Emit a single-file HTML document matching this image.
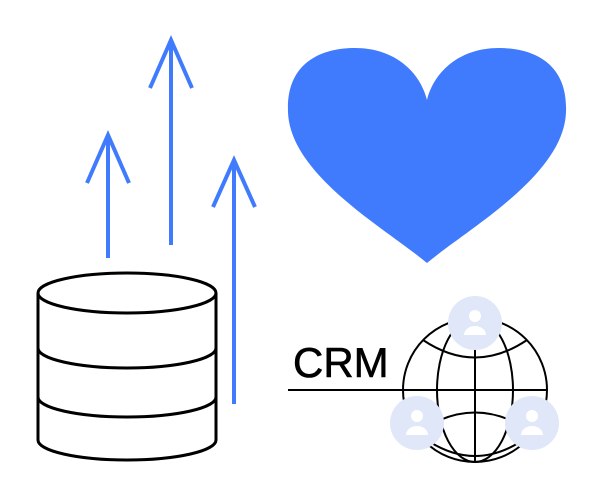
<!DOCTYPE html>
<html><head><style>html,body{margin:0;background:#fff;width:600px;height:500px;overflow:hidden}</style></head><body>
<svg width="600" height="500" viewBox="0 0 600 500" xmlns="http://www.w3.org/2000/svg">
<g stroke="#3f7bfc" stroke-width="4" fill="none">
<path d="M108 258V135M87 183L108 135L129 183"/>
<path d="M171 245V40M150 88L171 40L192 88"/>
<path d="M234 404V160M213 207L234 160L255 207"/>
</g>
<path d="M427 263 C385 228 290 175 288 112 C286 62 322 48 355 48 C395 48 420 72 427 100 C434 72 459 48 499 48 C532 48 568 62 566 112 C564 175 469 228 427 263Z" fill="#3f7bfc"/>
<g stroke="#000" stroke-width="3" fill="none">
<ellipse cx="127" cy="293" rx="89" ry="20"/>
<path d="M38 293V440A89 20 0 0 0 216 440V293"/>
<path d="M38 348A89 20 0 0 0 216 348"/>
<path d="M38 397A89 20 0 0 0 216 397"/>
</g>
<g stroke="#000" stroke-width="2" fill="none">
<path d="M288 390H547"/>
<path d="M403 390A72 72 0 0 1 547 390A72 72 0 0 1 403 390"/>
<ellipse cx="475" cy="390" rx="38" ry="72"/>
<path d="M475 318V462"/>
<path d="M423 340Q475 375 527 340"/>
<path d="M440 420Q475 405 510 420"/>
<path d="M430 442Q475 470 520 442"/>
</g>
<text x="293" y="377" font-family="Liberation Sans, sans-serif" font-size="42" fill="#000" stroke="#000" stroke-width="0.6">CRM</text>
<g fill="#dfe7f9">
<circle cx="475" cy="323" r="27"/><circle cx="417" cy="423" r="27"/><circle cx="532" cy="423" r="27"/>
</g>
<g fill="#fff">
<circle cx="475" cy="316" r="6"/><path d="M464 335a11 9 0 0 1 22 0z"/>
<circle cx="417" cy="416" r="6"/><path d="M406 435a11 9 0 0 1 22 0z"/>
<circle cx="532" cy="416" r="6"/><path d="M521 435a11 9 0 0 1 22 0z"/>
</g>
</svg>
</body></html>
